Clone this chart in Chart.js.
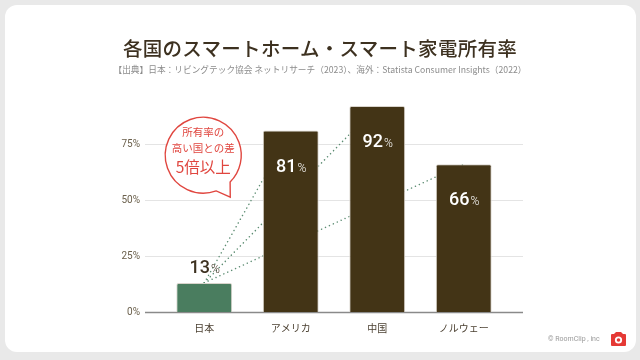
<!DOCTYPE html>
<html lang="ja">
<head>
<meta charset="utf-8">
<script src="https://cdn.jsdelivr.net/npm/chart.js@4.4.1/dist/chart.umd.min.js"></script>
<style>
  html, body { margin: 0; padding: 0; }
  body { width: 640px; height: 360px; background: #e9e9e9; position: relative; overflow: hidden;
         font-family: "Noto Sans CJK JP", "Noto Sans", sans-serif; }
  .card { position: absolute; left: 5px; top: 5px; width: 631px; height: 347px; background: #fff; border-radius: 12px; }
  #myChart { position: absolute; left: 0; top: 0; }
  .title { position: absolute; left: 0; width: 640px; top: 33px; text-align: center; font-size: 19.5px;
           font-weight: 500; color: #3d3120; letter-spacing: 0.3px; }
  .sub { position: absolute; left: 0; width: 640px; top: 63px; text-align: center; font-size: 8.7px; color: #8c8c8c; }
  .foot { position: absolute; left: 548px; top: 335px; font-size: 7px; color: #9a9a9a; font-family: Roboto, sans-serif; }
  .icon { position: absolute; left: 610px; top: 331px; }
</style>
</head>
<body>
<div class="card"></div>
<canvas id="myChart" width="640" height="360"></canvas>
<div class="title">各国のスマートホーム・スマート家電所有率</div>
<div class="sub">【出典】日本：リビングテック協会 ネットリサーチ（2023）、海外：Statista Consumer Insights（2022）</div>
<div class="foot">© RoomClip , inc</div>
<svg class="icon" width="17" height="16" viewBox="0 0 17 16">
  <path d="M4 3 L6 1 L11 1 L13 3 L15 3 Q16 3 16 4 L16 14 Q16 15 15 15 L2 15 Q1 15 1 14 L1 4 Q1 3 2 3 Z" fill="#e53935"/>
  <circle cx="8.5" cy="9" r="3.6" fill="#fff"/>
  <circle cx="8.5" cy="9" r="1.8" fill="#e53935"/>
</svg>
<script>
// データ
var countries = ["日本", "アメリカ", "中国", "ノルウェー"];
var ownership = [13, 81, 92, 66];
var yTicks = [0, 25, 50, 75];
var calloutLines = ["所有率の", "高い国との差", "5倍以上"];

var brown = "#433416";
var green = "#4a7d5f";
var red = "#e0463f";

// gridlines a bit wider than the bars area
var gridPlugin = {
    id: "gridExt",
    beforeDatasetsDraw: function (chart) {
        var ctx = chart.ctx, area = chart.chartArea, y = chart.scales.y;
        ctx.save();
        yTicks.forEach(function (v) {
            var py = Math.round(y.getPixelForValue(v)) + 0.5;
            ctx.beginPath();
            ctx.strokeStyle = v === 0 ? "#8a8a8a" : "#e4e4e4";
            ctx.lineWidth = v === 0 ? 1.5 : 1;
            ctx.moveTo(area.left - 16, py);
            ctx.lineTo(area.right + 16, py);
            ctx.stroke();
        });

        // dotted lines from Japan to the others
        var meta = chart.getDatasetMeta(0);
        var from = meta.data[0];
        ctx.strokeStyle = "#5d8d73";
        ctx.lineWidth = 1.5;
        ctx.lineCap = "round";
        ctx.setLineDash([0.1, 4.2]);
        for (var i = 1; i < meta.data.length; i++) {
            ctx.beginPath();
            ctx.moveTo(from.x, from.y);
            ctx.lineTo(meta.data[i].x, meta.data[i].y);
            ctx.stroke();
        }
        ctx.restore();
    }
};

var labelPlugin = {
    id: "valueLabels",
    afterDatasetsDraw: function (chart) {
        var ctx = chart.ctx;
        var meta = chart.getDatasetMeta(0);
        ctx.save();
        ctx.textBaseline = "alphabetic";
        meta.data.forEach(function (bar, i) {
            var num = String(ownership[i]);
            ctx.font = "500 18px Roboto, sans-serif";
            var w1 = ctx.measureText(num).width;
            ctx.font = "300 12px Roboto, sans-serif";
            var w2 = ctx.measureText("%").width;
            var x0 = bar.x - (w1 + w2) / 2;
            var base = i === 0 ? bar.y - 10 : bar.y + 41;
            ctx.fillStyle = i === 0 ? "#3d3120" : "#ffffff";
            ctx.font = "500 18px Roboto, sans-serif";
            ctx.textAlign = "left";
            ctx.fillText(num, x0, base);
            ctx.font = "300 12px Roboto, sans-serif";
            ctx.fillText("%", x0 + w1 + 1, base);
        });

        // callout bubble
        var y = chart.scales.y;
        var cx = meta.data[0].x - 1, cy = y.getPixelForValue(70), r = 38;
        ctx.beginPath();
        ctx.arc(cx, cy, r, 70 * Math.PI / 180, (45 + 360) * Math.PI / 180);
        ctx.lineTo(cx + 27, cy + 42);
        ctx.closePath();
        ctx.fillStyle = "#ffffff";
        ctx.fill();
        ctx.strokeStyle = red;
        ctx.lineWidth = 1.4;
        ctx.stroke();
        ctx.fillStyle = red;
        ctx.textAlign = "center";
        ctx.textBaseline = "middle";
        ctx.font = "400 10.5px 'Noto Sans CJK JP', sans-serif";
        ctx.fillText(calloutLines[0], cx, cy - 23);
        ctx.fillText(calloutLines[1], cx, cy - 7);
        ctx.font = "400 15.5px 'Noto Sans CJK JP', sans-serif";
        ctx.fillText(calloutLines[2], cx, cy + 12);
        ctx.restore();
    }
};

var ctx = document.getElementById("myChart").getContext("2d");
var myChart = new Chart(ctx, {
    type: "bar",
    data: {
        labels: countries,
        datasets: [
            {
                data: ownership,
                backgroundColor: [green, brown, brown, brown],
                borderColor: "#d9d4cc",
                borderWidth: 1,
                borderRadius: 2,
                borderSkipped: "bottom",
                barPercentage: 0.646,
                categoryPercentage: 1,
            },
        ],
    },
    options: {
        responsive: false,
        animation: false,
        layout: {
            padding: { left: 121, right: 133, top: 88, bottom: 18 },
        },
        scales: {
            x: {
                grid: { display: false, drawTicks: false },
                border: { display: false },
                ticks: {
                    padding: 10,
                    color: "#4a3f30",
                    font: { family: "'Noto Sans CJK JP', sans-serif", size: 10 },
                },
                afterFit: function (scale) { scale.height = 30; },
            },
            y: {
                min: 0,
                max: 100,
                grid: { display: false, drawTicks: false },
                border: { display: false },
                afterBuildTicks: function (axis) {
                    axis.ticks = yTicks.map(function (v) { return { value: v }; });
                },
                ticks: {
                    padding: 21,
                    color: "#6b604c",
                    font: { family: "Roboto, sans-serif", size: 10 },
                    callback: function (v) { return v + "%"; },
                },
                afterFit: function (scale) { scale.width = 40; },
            },
        },
        plugins: {
            legend: { display: false },
            tooltip: { enabled: false },
        },
    },
    plugins: [gridPlugin, labelPlugin],
});
</script>
</body>
</html>
